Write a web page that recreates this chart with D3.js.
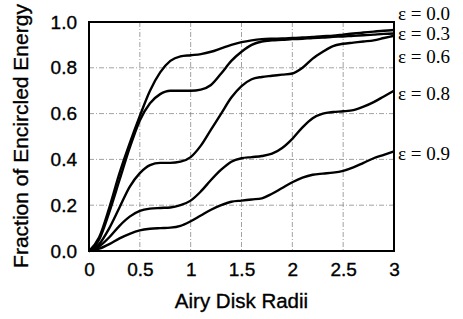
<!DOCTYPE html>
<html>
<head>
<meta charset="utf-8">
<script src="https://cdn.jsdelivr.net/npm/d3@7"></script>
<style>
  body { margin: 0; background: #fff; }
  svg { display: block; }
</style>
</head>
<body>
<div id="wrapper"></div>
<script>
// Data
const radii = [0, 0.1, 0.2, 0.3, 0.4, 0.5, 0.6, 0.7, 0.8, 0.9, 1.0, 1.1, 1.2, 1.3, 1.4, 1.5,
  1.6, 1.7, 1.8, 1.9, 2.0, 2.1, 2.2, 2.3, 2.4, 2.5, 2.6, 2.7, 2.8, 2.9, 3.0]
const eps00 = [0, 0.06, 0.19, 0.34, 0.47, 0.59, 0.70, 0.78, 0.83, 0.85, 0.855, 0.86, 0.87, 0.885, 0.90, 0.912,
  0.92, 0.925, 0.927, 0.928, 0.93, 0.932, 0.935, 0.938, 0.94, 0.945, 0.95, 0.954, 0.958, 0.962, 0.965]
const eps03 = [0, 0.05, 0.17, 0.31, 0.45, 0.57, 0.645, 0.685, 0.70, 0.70, 0.70, 0.705, 0.725, 0.775, 0.83, 0.87,
  0.90, 0.915, 0.92, 0.922, 0.925, 0.927, 0.93, 0.932, 0.935, 0.937, 0.94, 0.942, 0.945, 0.948, 0.95]
const eps06 = [0, 0.03, 0.10, 0.19, 0.28, 0.34, 0.375, 0.385, 0.385, 0.39, 0.41, 0.46, 0.53, 0.60, 0.67, 0.72,
  0.75, 0.76, 0.765, 0.77, 0.775, 0.80, 0.84, 0.87, 0.895, 0.905, 0.91, 0.915, 0.92, 0.93, 0.94]
const eps08 = [0, 0.02, 0.06, 0.11, 0.15, 0.175, 0.185, 0.188, 0.19, 0.20, 0.22, 0.26, 0.31, 0.355, 0.39, 0.405,
  0.41, 0.415, 0.425, 0.45, 0.49, 0.54, 0.58, 0.60, 0.607, 0.61, 0.615, 0.63, 0.65, 0.675, 0.70]
const eps09 = [0, 0.01, 0.03, 0.055, 0.075, 0.09, 0.097, 0.10, 0.102, 0.11, 0.13, 0.155, 0.18, 0.20, 0.215, 0.22,
  0.225, 0.23, 0.25, 0.275, 0.30, 0.32, 0.333, 0.338, 0.342, 0.35, 0.365, 0.385, 0.405, 0.42, 0.435]
const seriesNames = ["ε = 0.0", "ε = 0.3", "ε = 0.6", "ε = 0.8", "ε = 0.9"]
const seriesValues = [eps00, eps03, eps06, eps08, eps09]
const xTicks = [0, 0.5, 1, 1.5, 2, 2.5, 3]
const yTicks = [0, 0.2, 0.4, 0.6, 0.8, 1.0]

// Chart dimensions
const dimensions = {
  width: 463, height: 319,
  margins: {top: 22, bottom: 68, left: 89, right: 69}
}
dimensions.boundsWidth = dimensions.width - dimensions.margins.left - dimensions.margins.right
dimensions.boundsHeight = dimensions.height - dimensions.margins.top - dimensions.margins.bottom

const wrapper = d3.select("#wrapper").append("svg")
  .attr("width", dimensions.width)
  .attr("height", dimensions.height)

const bounds = wrapper.append("g")
  .attr("transform", `translate(${dimensions.margins.left},${dimensions.margins.top})`)

// Scales
const xScale = d3.scaleLinear().domain([0, 3]).range([0, dimensions.boundsWidth])
const yScale = d3.scaleLinear().domain([0, 1]).range([dimensions.boundsHeight, 0])

// Grid
const grid = bounds.append("g")
  .attr("stroke", "#8a8a8a").attr("stroke-width", 0.8).attr("stroke-dasharray", "5,2,1,2")
grid.selectAll(".vgrid").data(xTicks.slice(1, -1)).join("line")
  .attr("x1", d => xScale(d)).attr("x2", d => xScale(d))
  .attr("y1", 0).attr("y2", dimensions.boundsHeight)
grid.selectAll(".hgrid").data(yTicks.slice(1, -1)).join("line")
  .attr("y1", d => yScale(d)).attr("y2", d => yScale(d))
  .attr("x1", 0).attr("x2", dimensions.boundsWidth)

// Axes
const fontSans = "'Liberation Sans', Arial, sans-serif"
const xAxis = bounds.append("g")
  .attr("transform", `translate(0,${dimensions.boundsHeight})`)
  .call(d3.axisBottom(xScale).tickValues(xTicks).tickSize(0).tickPadding(12)
    .tickFormat(d => d3.format("")(d)))
const yAxis = bounds.append("g")
  .call(d3.axisLeft(yScale).tickValues(yTicks).tickSize(0).tickPadding(12)
    .tickFormat(d3.format(".1f")))
for (const ax of [xAxis, yAxis]) {
  ax.select(".domain").remove()
  ax.selectAll("text").attr("font-family", fontSans).attr("font-size", 19).attr("fill", "#000")
    .attr("stroke", "#000").attr("stroke-width", 0.35)
}

// Curves
const line = d3.line()
  .x((d, i) => xScale(radii[i]))
  .y(d => yScale(d))
  .curve(d3.curveMonotoneX)
bounds.selectAll(".curve").data(seriesValues).join("path")
  .attr("d", line)
  .attr("fill", "none").attr("stroke", "#000").attr("stroke-width", 2.4)
  .attr("stroke-linejoin", "round")

// Frame
bounds.append("rect")
  .attr("width", dimensions.boundsWidth).attr("height", dimensions.boundsHeight)
  .attr("fill", "none").attr("stroke", "#000").attr("stroke-width", 2)

// Series labels at the right
const labelAt = [1.038, 0.95, 0.852, 0.69, 0.425]
bounds.selectAll(".lab").data(seriesNames).join("text")
  .attr("x", dimensions.boundsWidth + 4)
  .attr("y", (d, i) => yScale(labelAt[i]))
  .attr("dy", "0.35em")
  .attr("font-family", "'Liberation Serif', 'Times New Roman', serif")
  .attr("font-size", 19)
  .text(d => d)

// Axis titles
wrapper.append("text")
  .attr("x", dimensions.margins.left + dimensions.boundsWidth / 2)
  .attr("y", 308)
  .attr("text-anchor", "middle")
  .attr("font-family", fontSans).attr("font-size", 20.5)
  .attr("stroke", "#000").attr("stroke-width", 0.35)
  .text("Airy Disk Radii")
wrapper.append("text")
  .attr("transform", `translate(28,${136}) rotate(-90)`)
  .attr("text-anchor", "middle")
  .attr("font-family", fontSans).attr("font-size", 21)
  .attr("stroke", "#000").attr("stroke-width", 0.35)
  .text("Fraction of Encircled Energy")
</script>
</body>
</html>
